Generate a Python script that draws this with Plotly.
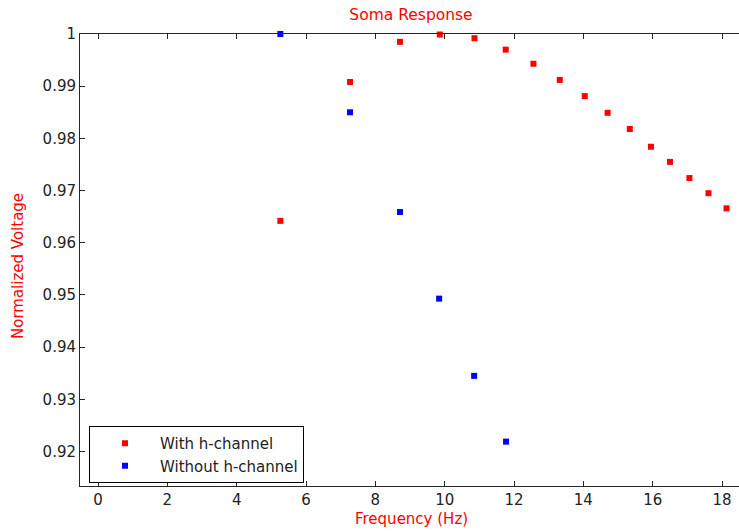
import plotly.graph_objects as go

# Frequency (Hz) and normalized soma voltage for each condition
freq_with = [5.26, 7.27, 8.71, 9.86, 10.86, 11.76, 12.56, 13.32, 14.04,
             14.70, 15.34, 15.95, 16.50, 17.06, 17.61, 18.13]
volt_with = [0.9642, 0.9908, 0.9985, 0.9999, 0.9992, 0.9970, 0.9943, 0.9912,
             0.9881, 0.9849, 0.9818, 0.9784, 0.9755, 0.9724, 0.9695, 0.9666]

freq_without = [5.26, 7.27, 8.71, 9.84, 10.85, 11.77]
volt_without = [1.0, 0.9850, 0.9659, 0.9493, 0.9345, 0.9219]

x_ticks = [0, 2, 4, 6, 8, 10, 12, 14, 16, 18]
y_ticks = [0.92, 0.93, 0.94, 0.95, 0.96, 0.97, 0.98, 0.99, 1.0]
y_tick_labels = ["0.92", "0.93", "0.94", "0.95", "0.96", "0.97", "0.98", "0.99", "1"]

FONT = "DejaVu Sans, Liberation Sans, sans-serif"
AXIS_COLOR = "#262626"
W, H = 739, 531
L, R, T, B = 80, 0, 34, 45

fig = go.Figure()
fig.add_trace(go.Scatter(
    x=freq_with, y=volt_with, mode="markers", name="With h-channel",
    marker=dict(symbol="square", size=6, color="#FF0000", line=dict(width=0)),
    cliponaxis=False,
))
fig.add_trace(go.Scatter(
    x=freq_without, y=volt_without, mode="markers", name="Without h-channel",
    marker=dict(symbol="square", size=6, color="#0000FF", line=dict(width=0)),
    cliponaxis=False,
))

axis_common = dict(
    showgrid=False, zeroline=False, showline=True, linecolor=AXIS_COLOR,
    linewidth=1, ticks="inside", ticklen=5, tickcolor=AXIS_COLOR, tickwidth=1,
    tickfont=dict(family=FONT, size=15, color="#222222"),
)

fig.update_xaxes(range=[-0.52, 18.49], tickvals=x_ticks, mirror="ticks",
                 **axis_common)
fig.update_yaxes(range=[0.9134, 1.0], tickvals=y_ticks, ticktext=y_tick_labels,
                 mirror=False, **axis_common)

plot_w = W - L - R
plot_h = H - T - B

fig.update_layout(
    width=W, height=H,
    margin=dict(l=L, r=R, t=T, b=B, pad=0),
    paper_bgcolor="white", plot_bgcolor="white",
    font=dict(family=FONT, size=15, color="#222222"),
    title=dict(text="Soma Response", x=411 / W, xanchor="center",
               y=1 - 15 / H, yanchor="middle", yref="container", xref="container",
               font=dict(family=FONT, size=15.5, color="#FF0000")),
    showlegend=True,
    legend=dict(
        x=(89 - L) / plot_w, xanchor="left",
        y=(H - B - 426) / plot_h, yanchor="top",
        bgcolor="white", bordercolor="#000000", borderwidth=1,
        itemwidth=60, entrywidth=215,
        font=dict(family=FONT, size=15, color="#222222"),
        tracegroupgap=0,
    ),
    annotations=[
        dict(text="Frequency (Hz)", xref="paper", yref="paper",
             x=(411 - L) / plot_w, y=(H - B - 519) / plot_h,
             xanchor="center", yanchor="middle", showarrow=False,
             font=dict(family=FONT, size=15, color="#FF0000")),
        dict(text="Normalized Voltage", xref="paper", yref="paper",
             x=(18 - L) / plot_w, y=(H - B - 266) / plot_h, textangle=-90,
             xanchor="center", yanchor="middle", showarrow=False,
             font=dict(family=FONT, size=15, color="#FF0000")),
    ],
)

fig.write_html("out.html")
